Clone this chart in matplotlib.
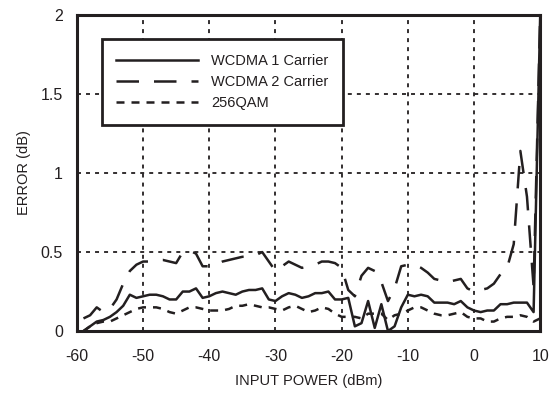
import matplotlib
matplotlib.use('Agg')
import matplotlib.pyplot as plt

# ---- data ----
power_dbm = list(range(-59, 11))

wcdma1 = [0.00, 0.03, 0.06, 0.07, 0.09, 0.12, 0.16, 0.23, 0.21, 0.22,
          0.23, 0.23, 0.22, 0.20, 0.20, 0.25, 0.25, 0.27, 0.21, 0.22,
          0.24, 0.25, 0.24, 0.23, 0.25, 0.26, 0.26, 0.27, 0.20, 0.19,
          0.22, 0.24, 0.23, 0.21, 0.22, 0.24, 0.24, 0.25, 0.20, 0.20,
          0.21, 0.03, 0.05, 0.19, 0.02, 0.17, 0.00, 0.03, 0.15, 0.23,
          0.22, 0.23, 0.22, 0.18, 0.18, 0.18, 0.17, 0.19, 0.15, 0.13,
          0.12, 0.13, 0.13, 0.17, 0.17, 0.18, 0.18, 0.18, 0.12, 2.00]

wcdma2 = [0.08, 0.10, 0.15, 0.12, 0.14, 0.20, 0.30, 0.38, 0.42, 0.44,
          0.44, 0.45, 0.45, 0.44, 0.43, 0.50, 0.51, 0.49, 0.41, 0.41,
          0.42, 0.44, 0.45, 0.46, 0.47, 0.47, 0.48, 0.50, 0.44, 0.38,
          0.41, 0.44, 0.42, 0.40, 0.41, 0.42, 0.44, 0.44, 0.43, 0.40,
          0.26, 0.22, 0.35, 0.40, 0.38, 0.31, 0.19, 0.27, 0.41, 0.42,
          0.42, 0.40, 0.37, 0.33, 0.32, 0.31, 0.32, 0.33, 0.27, 0.25,
          0.26, 0.27, 0.30, 0.36, 0.40, 0.55, 1.14, 0.85, 0.28, 2.00]

qam256 = [0.00, 0.03, 0.05, 0.06, 0.06, 0.08, 0.10, 0.12, 0.14, 0.15,
          0.15, 0.15, 0.14, 0.12, 0.11, 0.13, 0.15, 0.15, 0.14, 0.13,
          0.13, 0.13, 0.14, 0.16, 0.16, 0.17, 0.16, 0.15, 0.15, 0.14,
          0.13, 0.15, 0.16, 0.14, 0.12, 0.13, 0.15, 0.14, 0.11, 0.09,
          0.09, 0.09, 0.08, 0.11, 0.11, 0.11, 0.07, 0.10, 0.11, 0.13,
          0.15, 0.15, 0.13, 0.11, 0.10, 0.10, 0.11, 0.12, 0.09, 0.08,
          0.08, 0.06, 0.06, 0.08, 0.09, 0.09, 0.10, 0.09, 0.06, 0.08]

x_ticks = [-60, -50, -40, -30, -20, -10, 0, 10]
y_ticks = [0, 0.5, 1, 1.5, 2]
y_tick_labels = ['0', '0.5', '1', '1.5', '2']

plt.rcParams['font.family'] = ['Liberation Sans', 'DejaVu Sans']
plt.rcParams['axes.unicode_minus'] = False

fig = plt.figure(figsize=(5.49, 3.96), dpi=100)
ax = fig.add_axes([0.140, 0.164, 0.844, 0.798])

ax.plot(power_dbm, wcdma1, color='#231f20', lw=1.8, label='WCDMA 1 Carrier')
ax.plot(power_dbm, wcdma2, color='#231f20', lw=1.8, dashes=(9, 6),
        label='WCDMA 2 Carrier')
ax.plot(power_dbm, qam256, color='#231f20', lw=1.8, dashes=(3.2, 2.8),
        label='256QAM')

ax.set_xlim(-60, 10)
ax.set_ylim(0, 2)
ax.set_xticks(x_ticks)
ax.set_yticks(y_ticks)
ax.set_yticklabels(y_tick_labels)
ax.tick_params(length=0, labelsize=11.5, labelcolor='#231f20')
ax.tick_params(axis='x', pad=13)
ax.tick_params(axis='y', pad=10)

ax.grid(True, color='#231f20', lw=1.3, linestyle=(0, (2.2, 2.8)))
for s in ax.spines.values():
    s.set_linewidth(2.2)
    s.set_color('#231f20')

ax.set_xlabel('INPUT POWER (dBm)', fontsize=10.5, color='#231f20', labelpad=7)
ax.set_ylabel('ERROR (dB)', fontsize=10.5, color='#231f20', labelpad=7)

leg = ax.legend(loc='upper left', bbox_to_anchor=(0.054, 0.924),
                borderaxespad=0, fontsize=10.5, handlelength=5.6,
                handletextpad=0.9, labelspacing=0.5, borderpad=1.0,
                fancybox=False, framealpha=1, edgecolor='#231f20')
leg.get_frame().set_linewidth(2.0)
for t in leg.get_texts():
    t.set_color('#231f20')

plt.savefig('out.png', dpi=100)
